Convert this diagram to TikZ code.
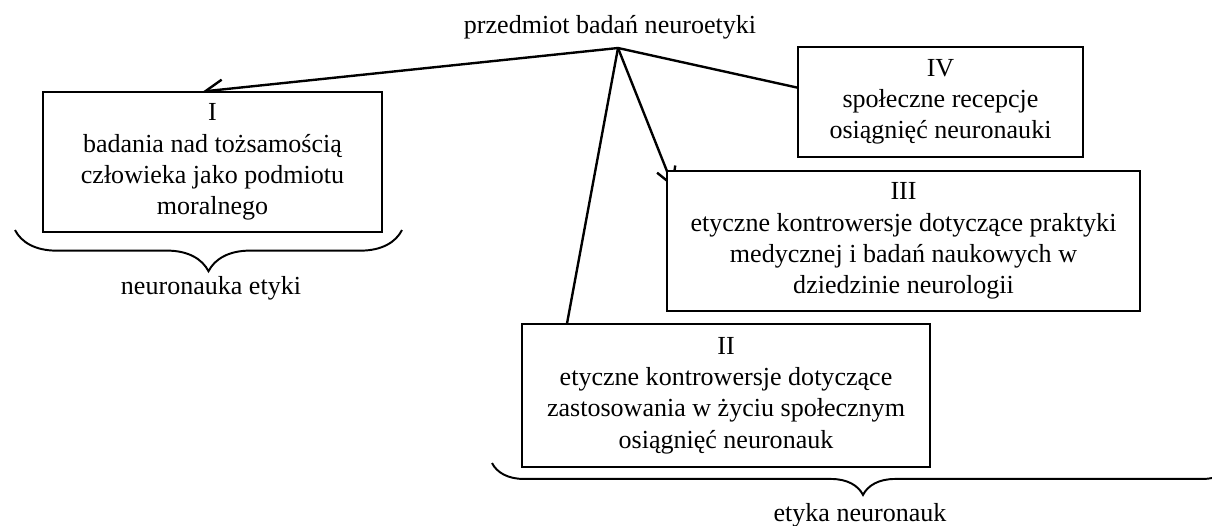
\documentclass[tikz,border=0pt]{standalone}
\usepackage{fontspec}
\setmainfont{Liberation Serif}
\usetikzlibrary{arrows.meta,calc,decorations.pathreplacing,backgrounds}
\newcommand{\pxu}{0.4608pt}
\tikzset{
  ramka/.style={draw, line width=0.5pt, fill=white, align=center, inner sep=0pt,
    font=\fontsize{12}{14.4}\selectfont},
  strzalka/.style={line width=1.1pt, -{Straight Barb[length=8pt,width=9pt]}},
  klamra/.style={decorate, decoration={brace, mirror, amplitude=#1}, line width=0.9pt},
  napis/.style={anchor=base, font=\fontsize{12}{14.4}\selectfont}
}

\begin{document}
\begin{tikzpicture}[x=\pxu, y=-\pxu]
\useasboundingbox (0,0) rectangle (1212,525);
%title and apex
\node[napis] (tytul) at (610,33) {przedmiot badań neuroetyki};
\coordinate (szczyt) at (618,48);
%boxes
\node[ramka, minimum width=339*\pxu, minimum height=140*\pxu] (boxI) at (212.5,162)
  {I\\badania nad tożsamością\\człowieka jako podmiotu\\moralnego};
\node[ramka, minimum width=408*\pxu, minimum height=143*\pxu] (boxII) at (726,395.5)
  {II\\etyczne kontrowersje dotyczące\\zastosowania w życiu społecznym\\osiągnięć neuronauk};
\node[ramka, minimum width=473*\pxu, minimum height=140*\pxu] (boxIII) at (903.5,241)
  {III\\etyczne kontrowersje dotyczące praktyki\\medycznej i badań naukowych w\\dziedzinie neurologii};
\node[ramka, minimum width=285*\pxu, minimum height=110*\pxu] (boxIV) at (940.5,102)
  {IV\\społeczne recepcje\\osiągnięć neuronauki};
%arrows, tips hidden under the boxes
\begin{scope}[on background layer]
\draw[strzalka] (szczyt) -- ($(boxI.north west)!0.472!(boxI.north east)$);
\draw[strzalka] (szczyt) -- ($(boxII.north west)+(40,30)$);
\draw[strzalka] (szczyt) -- ($(boxIII.north west)+(7,17)$);
\draw[strzalka] (szczyt) -- ($(boxIV.north west)+(40,50)$);
\end{scope}
%braces
\draw[klamra=19pt] (15,230) -- (402,230);
\node[napis] (etykaI) at (211,294) {neuronauka etyki};
\draw[klamra=14.7pt] (492,463) -- (1234,463);
\node[napis] (etykaII) at (860,521) {etyka neuronauk};
\end{tikzpicture}
\end{document}
